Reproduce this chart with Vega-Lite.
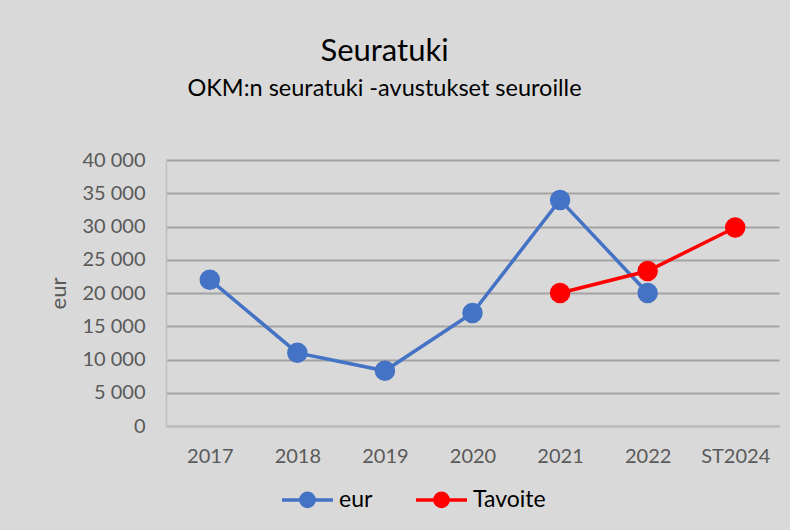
{
  "$schema": "https://vega.github.io/schema/vega-lite/v6.json",
  "width": 613,
  "height": 266,
  "autosize": {"type": "none"},
  "padding": {"left": 166, "top": 160, "right": 11, "bottom": 104},
  "background": "#d9d9d9",
  "title": {
    "text": "Seuratuki",
    "subtitle": "OKM:n seuratuki -avustukset seuroille",
    "anchor": "middle",
    "frame": "group",
    "dx": -88,
    "offset": 49,
    "font": "Lato",
    "fontSize": 31,
    "fontWeight": "normal",
    "color": "#000000",
    "subtitleFont": "Lato",
    "subtitleFontSize": 23.5,
    "subtitleColor": "#000000",
    "subtitlePadding": 9
  },
  "data": {
    "values": [
      {"vuosi": "2017", "sarja": "eur", "arvo": 22000},
      {"vuosi": "2018", "sarja": "eur", "arvo": 11000},
      {"vuosi": "2019", "sarja": "eur", "arvo": 8300},
      {"vuosi": "2020", "sarja": "eur", "arvo": 17000},
      {"vuosi": "2021", "sarja": "eur", "arvo": 34000},
      {"vuosi": "2022", "sarja": "eur", "arvo": 20000},
      {"vuosi": "2021", "sarja": "Tavoite", "arvo": 20000},
      {"vuosi": "2022", "sarja": "Tavoite", "arvo": 23300},
      {"vuosi": "ST2024", "sarja": "Tavoite", "arvo": 29850}
    ]
  },
  "mark": {
    "type": "line",
    "strokeWidth": 3.5,
    "point": {"size": 420, "filled": true, "opacity": 1}
  },
  "encoding": {
    "x": {
      "field": "vuosi",
      "type": "ordinal",
      "sort": ["2017", "2018", "2019", "2020", "2021", "2022", "ST2024"],
      "scale": {"domain": ["2017", "2018", "2019", "2020", "2021", "2022", "ST2024"], "padding": 0.5},
      "axis": {
        "title": null,
        "labelAngle": 0,
        "labelFont": "Lato",
        "labelFontSize": 20,
        "labelColor": "#595959",
        "labelPadding": 20,
        "ticks": false,
        "domainColor": "#bfbfbf",
        "domainWidth": 1.5,
        "grid": false
      }
    },
    "y": {
      "field": "arvo",
      "type": "quantitative",
      "scale": {"domain": [0, 40000], "nice": false},
      "axis": {
        "title": "eur",
        "titleFont": "Lato",
        "titleFontSize": 22,
        "titleFontWeight": "normal",
        "titleColor": "#595959",
        "titlePadding": 11,
        "values": [0, 5000, 10000, 15000, 20000, 25000, 30000, 35000, 40000],
        "labelExpr": "replace(format(datum.value, ','), ',', ' ')",
        "labelFont": "Lato",
        "labelFontSize": 20,
        "labelColor": "#595959",
        "labelPadding": 21,
        "ticks": false,
        "domainColor": "#bfbfbf",
        "domainWidth": 1.5,
        "grid": true,
        "gridColor": "#a3a3a3",
        "gridWidth": 2
      }
    },
    "color": {
      "field": "sarja",
      "type": "nominal",
      "scale": {"domain": ["eur", "Tavoite"], "range": ["#4472c4", "#ff0000"]},
      "legend": {
        "title": null,
        "orient": "none",
        "direction": "horizontal",
        "legendX": 114,
        "legendY": 312,
        "labelFont": "Lato",
        "labelFontSize": 23,
        "labelColor": "#000000",
        "labelOffset": 4,
        "columnPadding": 36,
        "symbolType": "M-1,0L1,0M-0.26,0A0.26,0.26,0,1,1,0.26,0A0.26,0.26,0,1,1,-0.26,0Z",
        "symbolSize": 2600,
        "symbolStrokeWidth": 3.5,
        "symbolOpacity": 1
      }
    }
  },
  "config": {
    "view": {"stroke": null}
  }
}
